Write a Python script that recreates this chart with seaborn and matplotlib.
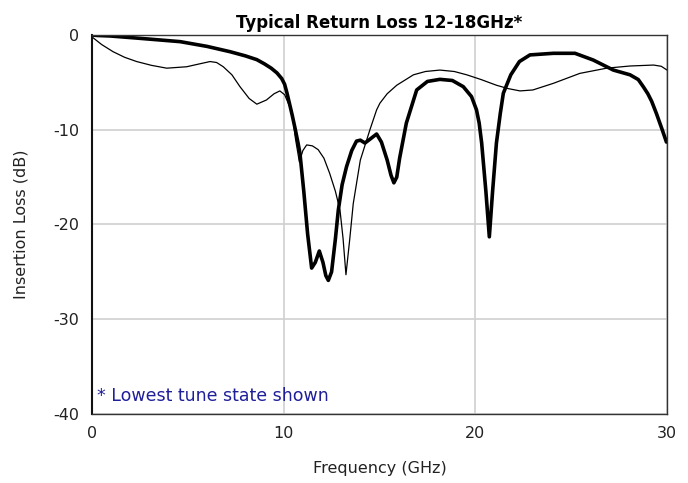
import matplotlib
matplotlib.use("Agg")
import matplotlib.pyplot as plt
import seaborn as sns
import pandas as pd

# Thick curve (dense points)
thick_x = [0.0, 0.3, 0.94, 2.5, 4.6, 6.0, 7.2, 8.0, 8.6, 9.0, 9.35, 9.65, 9.9, 10.05, 10.17, 10.3, 10.45, 10.6, 10.75, 10.85,
           11.05, 11.25, 11.46, 11.65, 11.86, 12.05, 12.2, 12.33, 12.5, 12.7, 12.85, 13.05, 13.28, 13.55,
           13.8, 14.0, 14.24, 14.5, 14.85, 15.1, 15.4, 15.6, 15.75, 15.9, 16.05, 16.4, 16.94, 17.5, 18.15,
           18.8, 19.37, 19.8, 20.06, 20.2, 20.33, 20.55, 20.73, 20.9, 21.1, 21.3, 21.46, 21.85, 22.3, 22.85,
           24.07, 25.2, 26.15, 27.2, 28.07, 28.5, 28.76, 29.0, 29.2, 29.45, 29.75, 29.97]
thick_y = [0.0, -0.05, -0.1, -0.35, -0.7, -1.2, -1.76, -2.2, -2.6, -3.05, -3.5, -4.0, -4.6, -5.2, -6.1, -7.2, -8.5, -9.9, -11.4, -12.5,
           -16.5, -21.0, -24.6, -24.0, -22.8, -24.0, -25.4, -25.9, -25.0, -21.5, -18.5, -15.8, -13.9, -12.2,
           -11.2, -11.1, -11.4, -11.0, -10.45, -11.3, -13.2, -14.8, -15.6, -15.0, -13.0, -9.3, -5.8, -4.9, -4.68,
           -4.8, -5.45, -6.5, -7.9, -9.3, -11.4, -16.5, -21.3, -16.5, -11.4, -8.3, -6.15, -4.2, -2.8, -2.1,
           -1.93, -1.93, -2.64, -3.7, -4.2, -4.7, -5.45, -6.2, -7.0, -8.3, -10.0, -11.3]

# Thin curve
thin_x = [0.0, 0.5, 1.1, 1.7, 2.33, 3.1, 3.9, 4.94, 5.6, 6.16, 6.5, 6.85, 7.3, 7.72, 8.2, 8.6, 9.1, 9.5, 9.8, 10.05, 10.24,
          10.42, 10.62, 10.82, 11.0, 11.2, 11.5, 11.8, 12.1, 12.4, 12.7, 12.94, 13.1, 13.25, 13.45,
          13.63, 14.0, 14.5, 14.85, 15.02, 15.4, 15.9, 16.77, 17.4, 18.15, 18.9, 19.55, 20.3, 21.1, 21.7, 22.33, 23.0, 24.07,
          25.45, 26.85, 28.07, 29.3, 29.7, 30.0]
thin_y = [-0.2, -1.0, -1.76, -2.35, -2.8, -3.2, -3.5, -3.35, -3.05, -2.8, -2.9, -3.35, -4.2, -5.45, -6.7, -7.3, -6.86, -6.2, -5.9, -6.3, -7.2,
          -7.9, -11.0, -13.4, -12.2, -11.6, -11.7, -12.1, -13.0, -14.6, -16.5, -18.5, -21.5, -25.3, -21.5,
          -17.8, -13.2, -10.0, -7.9, -7.2, -6.2, -5.3, -4.2, -3.85, -3.7, -3.85, -4.2, -4.7, -5.3, -5.65, -5.9, -5.8, -5.1,
          -4.05, -3.5, -3.27, -3.17, -3.3, -3.7]

x_ticks = [0, 10, 20, 30]
y_ticks = [0, -10, -20, -30, -40]
title = "Typical Return Loss 12-18GHz*"
note = "* Lowest tune state shown"

sns.set_theme(style="white")
plt.rcParams['font.family'] = ['DejaVu Sans']

fig = plt.figure(figsize=(6.88, 4.83), dpi=100)
ax = fig.add_axes([0.1337, 0.1429, 0.8358, 0.7846])

df_thin = pd.DataFrame({"x": thin_x, "y": thin_y})
df_thick = pd.DataFrame({"x": thick_x, "y": thick_y})
sns.lineplot(data=df_thin, x="x", y="y", ax=ax, color="black", linewidth=0.9, sort=False)
sns.lineplot(data=df_thick, x="x", y="y", ax=ax, color="black", linewidth=2.6, sort=False)

ax.set_xlim(0, 30)
ax.set_ylim(-40, 0)
ax.set_xticks(x_ticks)
ax.set_yticks(y_ticks)
ax.set_xticklabels([str(t) for t in x_ticks])
ax.set_yticklabels([str(t) for t in y_ticks])
ax.grid(True, color="#d0d0d0", linewidth=1.2)
ax.set_axisbelow(True)
ax.tick_params(axis='both', length=0, labelsize=11.5, colors="#222222")
ax.tick_params(axis='x', pad=9)
ax.tick_params(axis='y', pad=9)
for s in ax.spines.values():
    s.set_color("#333333")
    s.set_linewidth(1.0)
ax.spines['left'].set_linewidth(1.5)
ax.spines['left'].set_color("#111111")

ax.set_xlabel("Frequency (GHz)", fontsize=11.5, color="#222222", labelpad=14)
ax.set_ylabel("Insertion Loss (dB)", fontsize=11.5, color="#222222", labelpad=18)
ax.set_title(title, fontsize=12, fontweight="bold", color="black", pad=5)
ax.text(0.008, 0.025, note, transform=ax.transAxes, color="#1f1f9a", fontsize=12.5,
        ha="left", va="bottom")

fig.savefig("out.png", dpi=100)
